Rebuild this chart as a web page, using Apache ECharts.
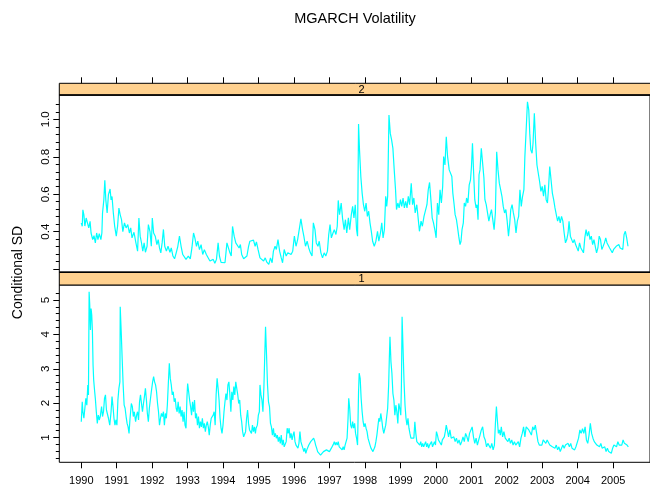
<!DOCTYPE html>
<html>
<head>
<meta charset="utf-8">
<script src="https://cdn.jsdelivr.net/npm/echarts@6/dist/echarts.min.js"></script>
<style>
  html, body { margin: 0; padding: 0; background: #fff; }
  #main { width: 650px; height: 489px; }
</style>
</head>
<body>
<div id="main"></div>
<script>
// panel "2" (upper)
const t2 = [1990.000,1990.027,1990.045,1990.073,1990.101,1990.138,1990.175,1990.211,1990.248,1990.276,1990.322,1990.359,1990.396,1990.433,1990.470,1990.507,1990.553,1990.581,1990.599,1990.636,1990.664,1990.692,1990.729,1990.766,1990.812,1990.840,1990.867,1990.904,1990.941,1990.987,
  1991.024,1991.061,1991.098,1991.135,1991.172,1991.218,1991.264,1991.311,1991.357,1991.394,1991.431,1991.486,1991.541,1991.588,1991.625,1991.661,1991.698,1991.735,1991.772,1991.809,1991.855,1991.892,1991.938,1991.975,
  1992.003,1992.040,1992.086,1992.132,1992.169,1992.206,1992.243,1992.280,1992.317,1992.354,1992.400,1992.446,1992.501,1992.538,1992.585,1992.631,1992.677,1992.723,1992.769,1992.815,1992.862,1992.908,1992.954,
  1993.019,1993.074,1993.120,1993.166,1993.203,1993.249,1993.286,1993.333,1993.379,1993.425,1993.471,1993.527,1993.573,1993.628,1993.674,1993.721,1993.767,1993.813,1993.859,1993.896,1993.942,1993.998,
  1994.053,1994.108,1994.155,1994.192,1994.229,1994.266,1994.312,1994.358,1994.404,1994.450,1994.487,1994.524,1994.579,1994.626,1994.672,1994.718,1994.755,1994.810,1994.857,1994.903,1994.940,1994.985,
  1995.040,1995.095,1995.142,1995.188,1995.234,1995.289,1995.336,1995.382,1995.419,1995.465,1995.502,1995.548,1995.594,1995.640,1995.677,1995.723,1995.779,1995.825,1995.871,1995.917,1995.963,
  1996.010,1996.056,1996.102,1996.148,1996.194,1996.241,1996.277,1996.324,1996.370,1996.416,1996.462,1996.508,1996.545,1996.591,1996.628,1996.675,1996.711,1996.758,1996.804,1996.850,1996.896,1996.942,1996.979,
  1997.016,1997.053,1997.099,1997.136,1997.182,1997.219,1997.247,1997.284,1997.330,1997.367,1997.413,1997.450,1997.487,1997.533,1997.570,1997.616,1997.653,1997.690,1997.727,1997.764,1997.792,1997.820,1997.847,1997.884,1997.921,1997.958,1997.995,
  1998.032,1998.069,1998.106,1998.143,1998.180,1998.217,1998.263,1998.309,1998.355,1998.392,1998.438,1998.475,1998.512,1998.549,1998.586,1998.614,1998.641,1998.678,1998.715,1998.752,1998.789,1998.826,1998.863,1998.891,1998.928,1998.965,
  1999.002,1999.038,1999.075,1999.112,1999.149,1999.186,1999.223,1999.260,1999.306,1999.343,1999.380,1999.417,1999.463,1999.500,1999.537,1999.583,1999.620,1999.666,1999.703,1999.749,1999.786,1999.823,1999.860,1999.897,1999.934,1999.980,
  2000.008,2000.045,2000.082,2000.119,2000.156,2000.193,2000.220,2000.257,2000.294,2000.331,2000.377,2000.414,2000.451,2000.479,2000.516,2000.544,2000.581,2000.608,2000.645,2000.682,2000.710,2000.738,2000.775,2000.802,2000.839,2000.867,2000.904,2000.941,2000.978,
  2001.005,2001.033,2001.070,2001.098,2001.135,2001.162,2001.190,2001.218,2001.245,2001.282,2001.319,2001.356,2001.384,2001.421,2001.458,2001.495,2001.532,2001.569,2001.606,2001.643,2001.679,2001.716,2001.753,2001.790,2001.827,2001.864,2001.901,2001.938,2001.975,
  2002.012,2002.049,2002.086,2002.113,2002.150,2002.187,2002.224,2002.261,2002.298,2002.335,2002.372,2002.409,2002.446,2002.483,2002.511,2002.547,2002.584,2002.621,2002.649,2002.677,2002.714,2002.741,2002.778,2002.815,2002.852,2002.889,2002.926,2002.963,
  2003.000,2003.037,2003.074,2003.111,2003.148,2003.175,2003.212,2003.249,2003.286,2003.323,2003.360,2003.397,2003.434,2003.471,2003.508,2003.545,2003.582,2003.619,2003.656,2003.693,2003.729,2003.757,2003.794,2003.831,2003.868,2003.905,2003.942,2003.979,
  2004.016,2004.053,2004.090,2004.127,2004.164,2004.201,2004.237,2004.274,2004.311,2004.348,2004.385,2004.422,2004.459,2004.496,2004.533,2004.570,2004.607,2004.644,2004.681,2004.718,2004.755,2004.792,2004.828,2004.865,2004.902,2004.939,2004.976,
  2005.013,2005.050,2005.087,2005.124,2005.161,2005.198,2005.235,2005.272,2005.309,2005.345,2005.382,2005.419];
const sd2 = [0.447,0.429,0.517,0.49,0.43,0.473,0.468,0.42,0.455,0.393,0.358,0.379,0.34,0.393,0.358,0.39,0.358,0.393,0.5,0.57,0.674,0.57,0.5,0.598,0.628,0.57,0.588,0.5,0.43,0.376,
  0.43,0.526,0.49,0.464,0.4,0.447,0.42,0.438,0.393,0.42,0.367,0.397,0.34,0.296,0.473,0.376,0.34,0.296,0.34,0.29,0.322,0.438,0.4,0.322,
  0.473,0.393,0.376,0.331,0.358,0.313,0.287,0.34,0.412,0.322,0.296,0.322,0.29,0.313,0.27,0.255,0.287,0.322,0.376,0.322,0.278,0.27,0.252,
  0.27,0.255,0.313,0.393,0.367,0.322,0.349,0.304,0.331,0.278,0.304,0.278,0.27,0.243,0.234,0.252,0.231,0.252,0.34,0.27,0.236,0.243,
  0.234,0.34,0.331,0.287,0.27,0.428,0.376,0.34,0.349,0.313,0.331,0.278,0.255,0.252,0.27,0.322,0.349,0.34,0.355,0.322,0.345,0.305,
  0.26,0.25,0.243,0.26,0.237,0.225,0.26,0.234,0.296,0.322,0.305,0.358,0.296,0.26,0.234,0.305,0.27,0.287,0.296,0.278,0.296,
  0.376,0.322,0.358,0.349,0.468,0.411,0.376,0.322,0.349,0.313,0.287,0.27,0.447,0.411,0.34,0.322,0.349,0.287,0.26,0.287,0.27,0.296,0.385,
  0.438,0.367,0.393,0.411,0.385,0.429,0.567,0.491,0.553,0.474,0.411,0.464,0.393,0.474,0.411,0.491,0.535,0.474,0.544,0.411,0.376,0.975,0.837,0.695,0.606,0.544,0.509,
  0.553,0.482,0.509,0.447,0.402,0.349,0.322,0.349,0.402,0.349,0.393,0.447,0.367,0.411,0.589,0.535,0.589,1.023,0.925,0.89,0.845,0.73,0.624,0.518,0.553,0.527,
  0.571,0.535,0.58,0.527,0.562,0.527,0.589,0.544,0.659,0.544,0.58,0.5,0.544,0.474,0.402,0.456,0.429,0.482,0.474,0.544,0.624,0.663,0.571,0.474,0.447,0.402,
  0.367,0.553,0.491,0.624,0.553,0.642,0.801,0.756,0.907,0.801,0.73,0.739,0.695,0.606,0.544,0.491,0.464,0.429,0.376,0.331,0.349,0.411,0.447,0.553,0.535,0.58,0.553,0.65,0.677,
  0.748,0.872,0.695,0.571,0.527,0.544,0.464,0.704,0.73,0.845,0.766,0.686,0.571,0.544,0.5,0.456,0.491,0.518,0.464,0.411,0.5,0.827,0.73,0.659,0.624,0.589,0.535,0.5,0.518,
  0.456,0.376,0.447,0.518,0.544,0.5,0.464,0.393,0.456,0.482,0.624,0.535,0.589,0.624,0.801,0.943,1.094,1.049,0.925,0.837,0.819,0.872,1.032,0.872,0.756,0.712,0.668,0.615,
  0.642,0.589,0.65,0.571,0.553,0.624,0.748,0.677,0.606,0.571,0.527,0.491,0.456,0.482,0.447,0.482,0.456,0.393,0.34,0.358,0.393,0.456,0.376,0.367,0.34,0.358,0.331,0.322,
  0.296,0.34,0.313,0.322,0.287,0.367,0.411,0.376,0.402,0.358,0.376,0.331,0.358,0.322,0.287,0.313,0.376,0.358,0.305,0.322,0.34,0.367,0.34,0.331,0.313,0.322,0.287,
  0.305,0.296,0.322,0.313,0.331,0.313,0.322,0.305,0.385,0.402,0.367,0.322];

// panel "1" (lower)
const t1 = [1990.000,1990.027,1990.045,1990.073,1990.101,1990.128,1990.156,1990.184,1990.202,1990.221,1990.239,1990.258,1990.276,1990.295,1990.313,1990.332,1990.350,1990.378,1990.396,1990.424,1990.452,1990.479,1990.507,1990.535,1990.572,1990.599,1990.627,1990.655,1990.682,1990.710,1990.738,1990.766,1990.803,1990.840,1990.867,1990.895,1990.922,1990.950,1990.978,
  1991.005,1991.033,1991.061,1991.089,1991.098,1991.126,1991.153,1991.181,1991.209,1991.236,1991.264,1991.292,1991.320,1991.347,1991.375,1991.412,1991.440,1991.467,1991.495,1991.532,1991.560,1991.587,1991.615,1991.643,1991.670,1991.698,1991.726,1991.754,1991.781,1991.809,1991.837,1991.864,1991.892,1991.920,1991.947,1991.975,
  1992.012,1992.040,1992.067,1992.095,1992.123,1992.151,1992.178,1992.206,1992.234,1992.261,1992.289,1992.317,1992.344,1992.372,1992.400,1992.427,1992.455,1992.483,1992.510,1992.538,1992.566,1992.594,1992.621,1992.649,1992.677,1992.704,1992.732,1992.760,1992.788,1992.815,1992.843,1992.871,1992.898,1992.926,1992.954,1992.981,
  1993.000,1993.028,1993.055,1993.083,1993.111,1993.138,1993.166,1993.194,1993.222,1993.249,1993.277,1993.305,1993.332,1993.360,1993.388,1993.415,1993.443,1993.471,1993.499,1993.526,1993.554,1993.582,1993.609,1993.637,1993.665,1993.692,1993.720,1993.748,1993.776,1993.803,1993.831,1993.859,1993.886,1993.914,1993.942,1993.969,1993.997,
  1994.025,1994.053,1994.080,1994.108,1994.136,1994.163,1994.191,1994.219,1994.246,1994.274,1994.302,1994.330,1994.357,1994.385,1994.413,1994.440,1994.468,1994.496,1994.523,1994.551,1994.579,1994.607,1994.634,1994.662,1994.690,1994.717,1994.745,1994.773,1994.800,1994.828,1994.856,1994.884,1994.911,1994.930,1994.966,1994.994,
  1995.022,1995.040,1995.068,1995.095,1995.123,1995.151,1995.179,1995.197,1995.225,1995.252,1995.280,1995.308,1995.336,1995.363,1995.391,1995.419,1995.446,1995.474,1995.502,1995.529,1995.557,1995.585,1995.613,1995.640,1995.668,1995.696,1995.723,1995.751,1995.779,1995.807,1995.834,1995.862,1995.890,1995.917,1995.945,1995.973,
  1996.000,1996.028,1996.056,1996.084,1996.111,1996.139,1996.167,1996.194,1996.222,1996.250,1996.277,1996.305,1996.333,1996.361,1996.388,1996.416,1996.444,1996.471,1996.499,1996.527,1996.554,1996.582,1996.610,1996.638,1996.665,1996.693,1996.721,1996.748,1996.776,1996.804,1996.831,1996.859,1996.887,1996.915,1996.942,1996.970,1996.998,
  1997.025,1997.053,1997.081,1997.109,1997.136,1997.164,1997.192,1997.219,1997.247,1997.275,1997.302,1997.330,1997.358,1997.386,1997.413,1997.441,1997.469,1997.496,1997.524,1997.543,1997.570,1997.598,1997.626,1997.653,1997.681,1997.709,1997.736,1997.764,1997.792,1997.820,1997.838,1997.866,1997.893,1997.921,1997.949,1997.976,
  1998.004,1998.032,1998.060,1998.087,1998.115,1998.143,1998.170,1998.198,1998.226,1998.254,1998.281,1998.309,1998.337,1998.364,1998.392,1998.420,1998.447,1998.475,1998.503,1998.531,1998.558,1998.586,1998.614,1998.641,1998.669,1998.688,1998.706,1998.734,1998.761,1998.789,1998.817,1998.844,1998.872,1998.900,1998.928,1998.955,1998.983,
  1999.011,1999.029,1999.048,1999.075,1999.103,1999.131,1999.158,1999.186,1999.214,1999.242,1999.269,1999.297,1999.325,1999.352,1999.380,1999.408,1999.435,1999.463,1999.491,1999.519,1999.546,1999.574,1999.602,1999.629,1999.657,1999.685,1999.713,1999.740,1999.768,1999.796,1999.823,1999.851,1999.879,1999.906,1999.934,1999.962,1999.990,
  2000.017,2000.045,2000.073,2000.100,2000.128,2000.156,2000.183,2000.211,2000.239,2000.267,2000.294,2000.322,2000.359,2000.396,2000.433,2000.470,2000.507,2000.544,2000.581,2000.618,2000.655,2000.692,2000.729,2000.766,2000.802,2000.839,2000.876,2000.913,2000.950,2000.987,
  2001.024,2001.061,2001.098,2001.135,2001.172,2001.209,2001.246,2001.283,2001.320,2001.357,2001.393,2001.430,2001.467,2001.504,2001.541,2001.578,2001.615,2001.652,2001.680,2001.708,2001.735,2001.763,2001.791,2001.818,2001.846,2001.883,2001.920,2001.957,2001.994,
  2002.031,2002.068,2002.104,2002.141,2002.178,2002.215,2002.252,2002.289,2002.326,2002.363,2002.400,2002.437,2002.474,2002.511,2002.548,2002.585,2002.622,2002.658,2002.695,2002.732,2002.769,2002.806,2002.843,2002.880,2002.917,2002.954,2002.991,
  2003.028,2003.065,2003.102,2003.139,2003.176,2003.213,2003.250,2003.286,2003.323,2003.360,2003.397,2003.434,2003.471,2003.508,2003.545,2003.582,2003.619,2003.656,2003.693,2003.730,2003.767,2003.804,2003.840,2003.877,2003.914,2003.951,2003.988,
  2004.025,2004.062,2004.099,2004.136,2004.173,2004.210,2004.247,2004.284,2004.321,2004.357,2004.394,2004.431,2004.468,2004.505,2004.542,2004.579,2004.616,2004.653,2004.690,2004.727,2004.764,2004.801,2004.838,2004.875,2004.912,2004.949,2004.986,
  2005.022,2005.059,2005.096,2005.133,2005.170,2005.207,2005.244,2005.281,2005.318,2005.355,2005.392,2005.429];
const sd1 = [1.46,2.04,1.75,1.56,1.85,2.14,1.94,2.53,2.24,5.24,4.85,4.13,4.75,4.56,4.13,3.11,2.67,2.33,2.14,1.75,1.41,1.65,1.51,1.61,1.90,1.61,1.75,2.14,2.24,1.80,1.85,1.56,1.36,1.75,2.19,1.90,1.56,1.36,1.51,
  1.36,2.09,2.43,2.62,4.80,4.08,3.30,2.53,1.94,1.85,1.61,1.41,1.31,1.12,1.56,1.99,1.90,1.61,1.75,1.46,1.65,1.75,1.51,2.04,2.24,1.99,1.75,1.99,2.19,2.43,2.09,1.70,1.46,1.85,2.09,2.33,
  2.62,2.77,2.62,2.53,2.33,1.99,1.75,1.36,1.56,1.70,1.61,1.75,1.36,1.70,1.56,1.94,2.57,3.16,2.72,2.53,2.24,2.33,2.04,2.14,1.85,1.75,2.04,1.70,1.90,1.61,1.80,1.46,1.75,1.36,1.27,2.19,
  2.57,2.33,2.09,1.90,1.65,2.04,1.75,2.09,1.56,1.70,1.36,1.61,1.27,1.46,1.31,1.56,1.27,1.41,1.17,1.36,1.46,1.31,1.07,1.36,1.56,1.61,1.65,1.75,1.36,2.24,2.72,2.43,2.09,1.56,1.27,1.12,1.36,
  1.75,2.04,2.28,2.09,2.53,2.62,2.24,1.75,2.33,2.09,2.48,2.24,2.62,2.67,2.24,1.99,2.09,1.65,1.46,1.17,1.02,0.98,1.17,1.56,1.80,1.41,1.22,1.27,1.12,1.36,1.17,1.31,1.12,1.27,1.36,1.65,
  1.75,2.53,2.24,2.09,1.75,2.48,2.53,4.22,3.40,2.53,2.04,1.90,1.41,1.31,1.07,1.27,1.02,1.12,0.98,1.07,0.88,1.02,0.83,1.07,0.78,0.93,0.73,0.69,0.88,1.27,1.12,1.27,0.98,1.12,0.93,1.07,
  1.17,0.88,0.78,0.83,0.69,0.83,1.17,0.88,0.78,0.69,0.59,0.69,0.54,0.64,0.69,0.78,0.73,0.88,0.83,0.93,0.98,0.90,0.78,0.69,0.59,0.64,0.54,0.49,0.54,0.47,0.59,0.54,0.59,0.64,0.59,0.69,0.59,
  0.64,0.69,0.64,0.80,0.88,0.78,0.86,0.78,0.88,0.73,0.69,0.78,0.64,0.73,0.64,0.78,0.73,0.98,1.56,2.14,1.85,1.36,1.27,1.46,1.27,1.41,1.12,0.98,0.78,2.33,2.87,2.72,2.14,1.75,1.46,1.31,
  1.41,1.27,1.17,0.98,0.88,0.78,0.69,0.64,0.59,0.64,0.73,0.88,1.07,1.12,1.56,1.46,1.70,1.51,1.27,1.12,1.17,1.36,1.41,1.85,2.53,3.30,3.93,3.20,2.87,2.28,2.09,1.65,1.94,1.75,1.41,1.99,1.85,
  1.65,2.53,4.51,3.59,2.62,1.94,1.56,1.36,1.56,1.27,1.12,0.98,0.93,1.02,0.98,1.46,1.12,0.88,0.83,0.93,0.78,0.88,0.73,0.83,0.73,0.78,0.88,0.73,0.83,0.69,0.78,0.73,0.88,0.73,0.78,0.88,0.78,
  1.17,1.07,0.93,0.88,0.98,0.78,0.93,0.93,1.02,1.17,1.36,1.22,1.02,1.22,0.98,0.93,1.02,0.88,0.98,0.83,0.93,0.78,0.88,1.02,0.88,1.12,1.02,0.88,1.12,1.07,
  1.31,1.02,0.83,0.98,0.78,0.93,1.07,1.22,1.31,1.02,0.93,0.73,0.83,0.78,0.69,0.83,0.64,0.78,1.41,1.90,1.51,1.12,1.22,1.07,1.31,1.02,1.17,0.98,1.02,
  0.88,0.98,0.83,0.93,0.78,0.88,0.78,0.73,0.88,0.73,0.98,1.12,1.31,1.02,1.31,1.36,1.22,1.26,1.07,1.31,1.22,1.36,1.12,0.88,0.78,0.83,0.78,
  0.93,0.98,0.83,0.93,0.88,0.78,0.83,0.73,0.78,0.69,0.78,0.64,0.73,0.59,0.69,0.78,0.69,0.78,0.73,0.83,0.73,0.83,0.69,0.73,0.64,0.73,0.69,
  0.98,1.22,1.12,1.26,1.12,1.31,0.93,0.83,1.07,1.41,1.12,0.98,0.88,0.83,0.78,0.83,0.73,0.83,0.69,0.64,0.73,0.59,0.69,0.59,0.64,0.54,0.69,
  0.78,0.83,0.73,0.88,0.78,0.83,0.78,0.93,0.83,0.88,0.78,0.73];

const yearTicks = [1990,1991,1992,1993,1994,1995,1996,1997,1998,1999,2000,2001,2002,2003,2004,2005];
const ticks2 = [0.2,0.4,0.6,0.8,1.0];
const labels2 = [0.4,0.6,0.8,1.0];
const minor2 = [0.24,0.28,0.32,0.36,0.44,0.48,0.52,0.56,0.64,0.68,0.72,0.76,0.84,0.88,0.92,0.96,1.04,1.08];
const ticks1 = [1,2,3,4,5];
const minor1 = [0.4,0.6,0.8,1.2,1.4,1.6,1.8,2.2,2.4,2.6,2.8,3.2,3.4,3.6,3.8,4.2,4.4,4.6,4.8,5.2];

const FONT = 'Liberation Sans, Arial, Helvetica, sans-serif';
const panelLeft = 59.3, panelWidth = 601.4;

function pairs(t, v) {
  return t.map((x, i) => [x, v[i]]);
}

function yAxisMain(grid, min, max, ticks, labels) {
  return {
    type: 'value', gridIndex: grid, min: min, max: max, position: 'left',
    axisLine: {show: false}, splitLine: {show: false},
    axisTick: {show: true, inside: false, length: 6, lineStyle: {color: '#000'}, customValues: ticks},
    axisLabel: {show: true, rotate: 90, margin: 7, fontSize: 11.5, color: '#000', fontFamily: FONT,
      customValues: labels, formatter: v => (ticks === ticks2 ? v.toFixed(1) : String(v))}
  };
}
function yAxisMinor(grid, min, max, minor) {
  return {
    type: 'value', gridIndex: grid, min: min, max: max, position: 'left',
    axisLine: {show: false}, splitLine: {show: false}, axisLabel: {show: false},
    axisTick: {show: true, inside: false, length: 3.5, lineStyle: {color: '#000'}, customValues: minor}
  };
}

let chart = echarts.init(document.getElementById('main'));
let option = {
  animation: false,
  backgroundColor: '#fff',
  grid: [
    {left: panelLeft, width: panelWidth, top: 95, height: 177.3, show: true, borderColor: '#000', borderWidth: 1, backgroundColor: 'transparent'},
    {left: panelLeft, width: panelWidth, top: 285, height: 177.3, show: true, borderColor: '#000', borderWidth: 1, backgroundColor: 'transparent'}
  ],
  xAxis: [
    {type: 'value', gridIndex: 0, min: 1989.38, max: 2006.04, position: 'top', offset: 11.7,
      axisLine: {show: false}, splitLine: {show: false}, axisLabel: {show: false},
      axisTick: {show: true, inside: false, length: 6, lineStyle: {color: '#000'}, customValues: yearTicks}},
    {type: 'value', gridIndex: 1, min: 1989.38, max: 2006.04, position: 'bottom',
      axisLine: {show: false}, splitLine: {show: false},
      axisTick: {show: true, inside: false, length: 6, lineStyle: {color: '#000'}, customValues: yearTicks},
      axisLabel: {show: true, margin: 13, fontSize: 11, color: '#000', fontFamily: FONT,
        customValues: yearTicks, formatter: v => String(v)}}
  ],
  yAxis: [
    yAxisMain(0, 0.183, 1.13, ticks2, labels2),
    yAxisMinor(0, 0.183, 1.13, minor2),
    yAxisMain(1, 0.279, 5.436, ticks1, ticks1),
    yAxisMinor(1, 0.279, 5.436, minor1)
  ],
  graphic: [
    {type: 'rect', shape: {x: panelLeft, y: 83.3, width: panelWidth, height: 11.7},
      style: {fill: '#FFD18F', stroke: '#000', lineWidth: 1}},
    {type: 'rect', shape: {x: panelLeft, y: 272.3, width: panelWidth, height: 12.7},
      style: {fill: '#FFD18F', stroke: '#000', lineWidth: 1}},
    {type: 'line', shape: {x1: panelLeft, y1: 95, x2: 650, y2: 95}, style: {stroke: '#000', lineWidth: 1.6}},
    {type: 'line', shape: {x1: panelLeft, y1: 272.3, x2: 650, y2: 272.3}, style: {stroke: '#000', lineWidth: 1.6}},
    {type: 'text', x: 361.5, y: 89.5, style: {text: '2', fill: '#000', font: '11px ' + FONT, textAlign: 'center', textVerticalAlign: 'middle'}},
    {type: 'text', x: 361.5, y: 279, style: {text: '1', fill: '#000', font: '11px ' + FONT, textAlign: 'center', textVerticalAlign: 'middle'}},
    {type: 'text', x: 355, y: 18.5, style: {text: 'MGARCH Volatility', fill: '#000', font: '14.5px ' + FONT, textAlign: 'center', textVerticalAlign: 'middle'}},
    {type: 'text', x: 18.5, y: 272.5, rotation: Math.PI / 2,
      style: {text: 'Conditional SD', fill: '#000', font: '14px ' + FONT, textAlign: 'center', textVerticalAlign: 'middle'}}
  ],
  series: [
    {type: 'line', xAxisIndex: 0, yAxisIndex: 0, data: pairs(t2, sd2), showSymbol: false,
      lineStyle: {color: '#00FFFF', width: 1.2}, itemStyle: {color: '#00FFFF'}},
    {type: 'line', xAxisIndex: 1, yAxisIndex: 2, data: pairs(t1, sd1), showSymbol: false,
      lineStyle: {color: '#00FFFF', width: 1.2}, itemStyle: {color: '#00FFFF'}}
  ]
};
chart.setOption(option);
</script>
</body>
</html>
